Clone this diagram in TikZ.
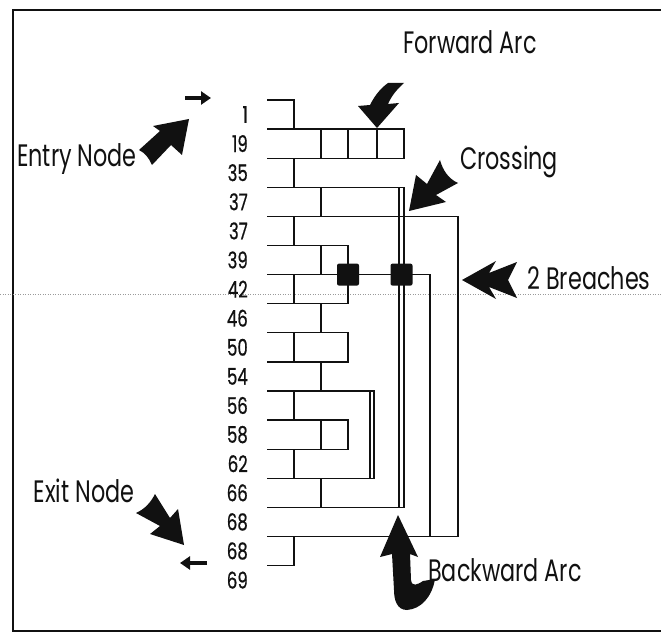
\documentclass[tikz,border=0pt]{standalone}
\usepackage{fontspec}
\newfontfamily\gothic[FakeStretch=0.72]{Poppins}
\newfontfamily\gothicnum[FakeStretch=0.72,FakeBold=0.6]{Poppins}
\usepackage{tikz}
\usetikzlibrary{calc,arrows.meta}
\usetikzlibrary{positioning}
\definecolor{scan-ink}{HTML}{111111}
\definecolor{scan-dots}{HTML}{9A9A9A}

\begin{document}
\begin{tikzpicture}[
    x=1pt, y=-1pt,
    font=\gothic,
    >={Triangle[length=10pt,width=13pt]}
  ]

  % Styles for the scanned figure
  \tikzset{
    wire/.style={draw=scan-ink, line width=1.3pt},
    rowlabel/.style={anchor=east, inner sep=0pt, text=scan-ink, font=\gothicnum\fontsize{23}{23}\selectfont},
    caption/.style={inner sep=0pt, text=scan-ink, font=\gothic\fontsize{31}{31}\selectfont},
    breach/.style={fill=scan-ink, rounded corners=2pt, minimum size=22pt, inner sep=0pt},
    fatarrow/.style={fill=scan-ink, draw=none},
    smallarrow/.style={->, line width=3.6pt, scan-ink}
  }

  % Page and frame
  \useasboundingbox (0,0) rectangle (661,639);
  \draw[scan-ink, line width=1.6pt] (13,10) rectangle (680,631);
  \draw[scan-dots, dotted, line width=0.5pt] (0,294) -- (661,294);

  % Row lines and row labels
  \foreach \lbl [count=\i] in {1,19,35,37,37,39,42,46,50,54,56,58,62,66,68,68,69} {
    \coordinate (h\i) at (267,{100+29.1*(\i-1)});
    \node (n\i) [rowlabel] at (248,{114.5+29.1*(\i-1)}) {\lbl};
  }

  % Columns
  \coordinate (c1) at (294,0);
  \coordinate (c2) at (321,0);
  \coordinate (c3) at (348,0);
  \coordinate (c4) at (377,0);
  \coordinate (c5) at (404,0);
  \coordinate (c6) at (399,0);
  \coordinate (d1) at (370,0);
  \coordinate (d2) at (374,0);
  \coordinate (c7) at (430,0);
  \coordinate (c8) at (458,0);

  % Nesting structure
  \draw[wire] (h1) -- (h1 -| c1) -- (h2 -| c1);
  \draw[wire] (h2) -- (h2 -| c5) -- (h3 -| c5) -- (h3);
  \foreach \c in {c2,c3,c4} \draw[wire] (h2 -| \c) -- (h3 -| \c);
  \draw[wire] (h3 -| c1) -- (h4 -| c1);
  \draw[wire] (h4) -- (h4 -| c5) -- (h15 -| c5) -- (h15);
  \draw[wire] (h4 -| c6) -- (h15 -| c6);
  \draw[wire] (h4 -| c2) -- (h5 -| c2);
  \draw[wire] (h5) -- (h5 -| c8) -- (h16 -| c8) -- (h16);
  \draw[wire] (h5 -| c1) -- (h6 -| c1);
  \draw[wire] (h6) -- (h6 -| c3) -- (h8 -| c3);
  \draw[wire] (h6 -| c2) -- (h7 -| c2);
  \draw[wire] (h7) -- (h7 -| c7) -- (h16 -| c7);
  \draw[wire] (h7 -| c1) -- (h8 -| c1);
  \draw[wire] (h8) -- (h8 -| c3);
  \draw[wire] (h8 -| c2) -- (h9 -| c2);
  \draw[wire] (h9) -- (h9 -| c3) -- (h10 -| c3) -- (h10);
  \draw[wire] (h9 -| c1) -- (h10 -| c1);
  \draw[wire] (h10 -| c2) -- (h11 -| c2);
  \draw[wire] (h11) -- (h11 -| d2) -- (h14 -| d2) -- (h14);
  \draw[wire] (h11 -| d1) -- (h14 -| d1);
  \draw[wire] (h11 -| c1) -- (h12 -| c1);
  \draw[wire] (h12) -- (h12 -| c3) -- (h13 -| c3) -- (h13);
  \draw[wire] (h12 -| c2) -- (h13 -| c2);
  \draw[wire] (h13 -| c1) -- (h14 -| c1);
  \draw[wire] (h14 -| c2) -- (h15 -| c2);
  \draw[wire] (h16 -| c1) -- (h17 -| c1) -- (h17);

  % Breach markers
  \node (b1) [breach] at (h7 -| c3) {};
  \node (b2) [breach] at ($(h7 -| c5)!0.5!(h7 -| c6)$) {};

  % Entry and exit arrows
  \coordinate (in-a) at (185,98);
  \coordinate (in-b) at (211,98);
  \coordinate (out-a) at (207,563);
  \coordinate (out-b) at (180,563);
  \draw[smallarrow] (in-a) -- (in-b);
  \draw[smallarrow] (out-a) -- (out-b);

  % Captions
  \node (fwd)   [caption] at (470,42)  {Forward Arc};
  \node (cross) [caption] at (509,162) {Crossing};
  \node (brch)  [caption] at (589,278) {2 Breaches};
  \node (bwd)   [caption] at (505,570) {Backward Arc};
  \node (entry) [caption] at (77,159)  {Entry Node};
  \node (exit)  [caption] at (84,491)  {Exit Node};

  % Pointer arrows
  \fill[fatarrow] (377,128) -- (358,106) -- (370,105) .. controls (375,95) and (381,88) .. (388,83) -- (404,83) .. controls (396,90) and (391,97) .. (388,104) -- (399,103) -- cycle;
  \fill[fatarrow] (189,119) -- (182,155) -- (171,145) -- (152,165) .. controls (149,158) and (145,153) .. (139,150) -- (160,131) -- (153,126) -- cycle;
  \fill[fatarrow] (409,211) -- (416,175) -- (427,184) -- (440,160) .. controls (443,171) and (449,179) .. (458,183) -- (436,195) -- (446,202) -- cycle;
  \fill[fatarrow] (184,545) -- (150,534) -- (160,526) -- (136,513) .. controls (145,509) and (151,502) .. (155,494) -- (170,518) -- (178,509) -- cycle;
  \fill[fatarrow] (462,280) -- (496,261) -- (489,273) -- (517,262) -- (508,280) -- (517,298) -- (489,287) -- (496,299) -- cycle;
  \fill[fatarrow] (398,515) -- (418,557) -- (410,554) -- (411,580) .. controls (412,587) and (417,585) .. (423,581) -- (435,579) .. controls (432,597) and (421,609) .. (407,610) .. controls (397,610) and (394,600) .. (394,590) -- (392,554) -- (380,557) -- cycle;

\end{tikzpicture}
\end{document}
